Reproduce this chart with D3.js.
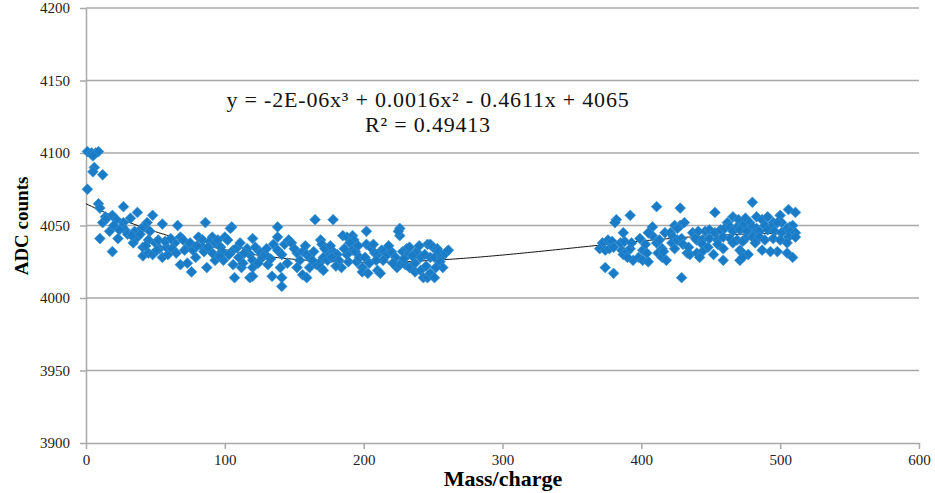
<!DOCTYPE html>
<html>
<head>
<meta charset="utf-8">
<script src="https://cdn.jsdelivr.net/npm/d3@7"></script>
<style>
	body { margin: 0; background: #fff; }
	svg { display: block; }
	.tick text { font-family: 'Liberation Serif', serif; font-size: 15px; fill: #222; }
	.axis path, .axis line { stroke: #a8a8a8; stroke-width: 1.5; }
	.grid line { stroke: #a8a8a8; stroke-width: 1.5; }
</style>
</head>
<body>
<svg></svg>
<script>
/************* ADC counts vs mass/charge scatter with cubic trendline *************/

var xTicks = [0, 100, 200, 300, 400, 500, 600];
var yTicks = [3900, 3950, 4000, 4050, 4100, 4150, 4200];

// trendline y = c0 + c1 x + c2 x^2 + c3 x^3 (label shows rounded values)
var trendCoef = [4065, -0.4611, 0.0016, -1.52e-6];
var trendRange = [0, 510];
var trendLabel = ['y = -2E-06x³ + 0.0016x² - 0.4611x + 4065', 'R² = 0.49413'];

// [mass/charge, ADC counts], low mass group
var lowMassPoints = [
	[1,4101],[4,4100],[7,4100],[9,4101],[5,4098],
	[6,4090],[5,4087],[12,4085],[1,4075],[9,4065],[10,4062],[27,4063],
	[14,4056],[12,4052],[15,4055],[19,4057],[22,4054],[37,4059],[32,4055],[27,4052],[26,4049],
	[48,4057],[44,4052],[42,4049],[55,4051],[10,4041],[17,4046],[23,4041],[19,4032],
	[28,4047],[30,4044],[35,4046],[37,4042],[34,4038],[40,4048],[41,4035],[46,4046],[45,4040],
	[41,4029],[45,4031],[48,4030],[50,4038],[53,4034],[51,4033],[55,4028],[59,4030],
	[66,4050],[68,4042],[64,4038],[58,4035],[62,4034],[70,4040],[73,4035],[71,4033],[75,4038],
	[68,4023],[73,4024],[76,4018],[79,4028],[81,4042],[84,4040],[86,4052],[87,4021],
	[84,4035],[85,4032],[91,4042],[89,4039],[93,4038],[95,4040],[93,4026],[91,4031],[97,4035],
	[98,4032],[100,4042],[102,4040],[105,4049],[104,4048],[99,4026],[106,4033],[109,4035],
	[111,4038],[106,4023],[112,4021],[113,4024],[107,4014],[116,4034],[118,4030],[120,4041],
	[120,4026],[120,4021],[118,4014],[120,4015],[125,4032],[127,4028],[129,4030],[124,4024],
	[131,4023],[134,4015],[141,4014],[141,4008],[138,4049],[138,4042],[135,4037],[138,4033],
	[141,4030],[143,4037],[146,4040],[148,4038],[140,4021],[145,4024],[152,4031],[154,4026],
	[156,4032],[152,4021],[156,4016],[159,4014],[159,4030],[161,4028],[164,4032],[165,4054],
	[161,4021],[166,4023],[169,4025],[169,4040],[170,4037],[171,4028],[174,4026],[174,4032],
	[178,4054],[172,4034],[169,4021],[171,4019],[178,4032],[181,4030],[177,4028],[185,4043],
	[188,4042],[192,4043],[193,4040],[190,4038],[192,4033],[194,4032],[202,4046],[182,4026],
	[184,4021],[189,4025],[188,4030],[195,4025],[197,4028],[199,4021],[201,4028],[199,4018],
	[203,4017],[202,4037],[205,4035],[207,4037],[208,4031],[210,4030],[210,4019],[212,4017],
	[213,4033],[215,4032],[217,4030],[214,4026],[220,4032],[223,4028],[224,4021],[226,4023],
	[226,4048],[226,4043],[225,4046],[228,4032],[231,4034],[232,4030],[233,4035],[230,4023],
	[233,4021],[237,4024],[238,4032],[241,4028],[237,4018],[241,4019],[243,4014],[246,4014],
	[248,4017],[251,4014],[246,4037],[248,4037],[250,4035],[253,4034],[244,4030],[248,4028],
	[251,4028],[254,4032],[256,4028],[259,4031],[261,4033],[255,4025],[257,4021],
	[20,4050],[24,4047],[33,4043],[39,4044],[43,4036],[52,4040],[57,4039],[61,4041],[65,4031],
	[77,4033],[80,4036],[88,4035],[96,4029],[103,4030],[110,4028],[114,4031],[122,4035],
	[130,4034],[133,4027],[150,4034],[158,4036],[163,4026],[176,4036],[180,4022],[186,4034],
	[196,4036],[204,4024],[209,4026],[218,4036],[221,4024],[229,4027],[235,4029],[240,4036],
	[245,4022],[252,4021]
];

// [mass/charge, ADC counts], high mass group
var highMassPoints = [
	[374,4021],[380,4017],[429,4014],[411,4063],[428,4062],[392,4057],[382,4054],[381,4052],
	[387,4045],[372,4038],[376,4040],[379,4039],[370,4034],[374,4033],[377,4034],[380,4035],
	[386,4033],[387,4030],[390,4032],[392,4034],[385,4038],[388,4039],[393,4038],[394,4026],
	[398,4028],[401,4026],[405,4025],[390,4028],[399,4041],[401,4033],[404,4031],[403,4037],
	[408,4049],[408,4043],[405,4045],[411,4038],[413,4040],[415,4034],[412,4031],[415,4028],
	[418,4026],[416,4032],[417,4045],[421,4045],[423,4042],[424,4050],[428,4050],[431,4052],
	[426,4048],[422,4038],[426,4040],[429,4041],[424,4034],[430,4037],[433,4031],[435,4030],
	[434,4035],[437,4045],[440,4040],
	[480,4066],[453,4059],[506,4061],[511,4059],[500,4057],[462,4052],[466,4056],[470,4054],
	[475,4055],[478,4052],[483,4056],[487,4054],[491,4056],[495,4052],[501,4052],[507,4049],
	[509,4050],[441,4046],[446,4046],[449,4047],[453,4045],[457,4047],[460,4048],[464,4049],
	[469,4049],[473,4050],[480,4049],[483,4048],[489,4050],[494,4049],[498,4052],[505,4048],
	[466,4046],[471,4047],[476,4046],[482,4045],[485,4046],[491,4047],[496,4046],[501,4045],
	[507,4046],[511,4045],[439,4041],[444,4040],[449,4041],[455,4040],[459,4042],[464,4041],
	[469,4040],[475,4041],[480,4042],[485,4042],[489,4040],[495,4041],[500,4040],[506,4042],
	[511,4042],[444,4037],[448,4035],[455,4037],[459,4034],[466,4038],[473,4039],[482,4038],
	[505,4038],[440,4031],[444,4032],[452,4030],[442,4028],[471,4033],[473,4031],[487,4033],
	[498,4032],[505,4031],[509,4028],[493,4032],[459,4026],[471,4026],[477,4030],[473,4028]
];

var width = 935, height = 493;
var plotLeft = 86, plotRight = 919, plotTop = 8, plotBottom = 443;

var svg = d3.select('svg')
	.attr('width', width)
	.attr('height', height);

var x = d3.scaleLinear().domain([0, 600]).range([plotLeft, plotRight]);
var y = d3.scaleLinear().domain([3900, 4200]).range([plotBottom, plotTop]);

// horizontal gridlines
svg.append('g')
	.attr('class', 'grid')
	.selectAll('line')
	.data(yTicks.slice(1))
	.enter().append('line')
	.attr('x1', plotLeft).attr('x2', plotRight)
	.attr('y1', function(d) { return y(d); })
	.attr('y2', function(d) { return y(d); });

svg.append('g')
	.attr('class', 'axis')
	.attr('transform', 'translate(' + plotLeft + ',0)')
	.call(d3.axisLeft(y).tickValues(yTicks).tickSizeInner(6).tickSizeOuter(0).tickPadding(10).tickFormat(d3.format('d')));

svg.append('g')
	.attr('class', 'axis')
	.attr('transform', 'translate(0,' + plotBottom + ')')
	.call(d3.axisBottom(x).tickValues(xTicks).tickSizeInner(6).tickSizeOuter(0).tickPadding(5).tickFormat(d3.format('d')));

// trendline
var trendY = function(v) {
	return trendCoef[0] + trendCoef[1] * v + trendCoef[2] * v * v + trendCoef[3] * v * v * v;
};
var trendX = d3.range(trendRange[0], trendRange[1] + 1, 2);

svg.append('path')
	.datum(trendX)
	.attr('fill', 'none')
	.attr('stroke', '#111')
	.attr('stroke-width', 1)
	.attr('d', d3.line()
		.x(function(d) { return x(d); })
		.y(function(d) { return y(trendY(d)); }));

// markers
var diamond = d3.symbol().type(d3.symbolSquare).size(58);
svg.append('g')
	.selectAll('path')
	.data(lowMassPoints.concat(highMassPoints))
	.enter().append('path')
	.attr('d', diamond)
	.attr('transform', function(d) { return 'translate(' + x(d[0]) + ',' + y(d[1]) + ') rotate(45)'; })
	.attr('fill', '#1a7cc7')
	.attr('stroke', '#3a93d4')
	.attr('stroke-width', 0.6);

// trendline label
svg.append('g')
	.selectAll('text')
	.data(trendLabel)
	.enter().append('text')
	.attr('x', 428)
	.attr('y', function(d, i) { return 107 + i * 25; })
	.attr('text-anchor', 'middle')
	.style('font-family', "'Liberation Serif', serif")
	.style('font-size', '22px')
	.style('letter-spacing', '0.8px')
	.attr('fill', '#111')
	.text(function(d) { return d; });

// axis titles
svg.append('text')
	.attr('x', 503)
	.attr('y', 486)
	.attr('text-anchor', 'middle')
	.style('font-family', "'Liberation Serif', serif")
	.style('font-weight', 'bold')
	.style('font-size', '22px')
	.text('Mass/charge');

svg.append('text')
	.attr('transform', 'translate(28,226) rotate(-90)')
	.attr('text-anchor', 'middle')
	.style('font-family', "'Liberation Serif', serif")
	.style('font-weight', 'bold')
	.style('font-size', '19px')
	.text('ADC counts');
</script>
</body>
</html>
